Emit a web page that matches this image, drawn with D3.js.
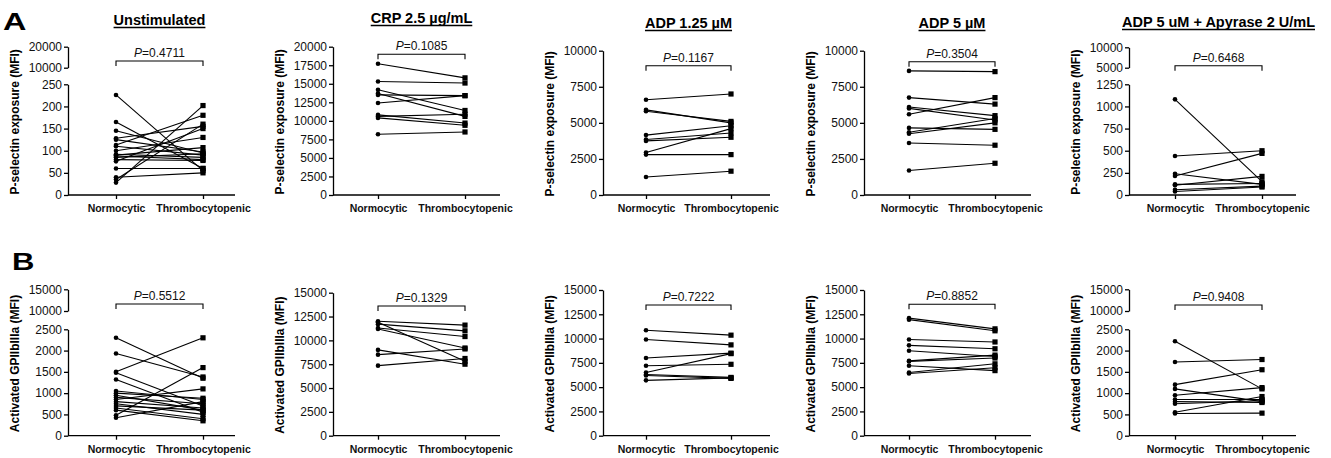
<!DOCTYPE html>
<html>
<head>
<meta charset="utf-8">
<script src="https://cdn.jsdelivr.net/npm/d3@7"></script>
<style>
  body { margin: 0; background: #fff; }
  svg { font-family: "Liberation Sans", Arial, Helvetica, sans-serif; }
  .tick text { fill: #111; }
</style>
</head>
<body>
<script>
const groups = ["Normocytic", "Thrombocytopenic"];

const titles = ["Unstimulated", "CRP 2.5 \u00b5g/mL", "ADP 1.25 \u00b5M", "ADP 5 \u00b5M", "ADP 5 uM + Apyrase 2 U/mL"];
const yLabels = ["P-selectin exposure (MFI)", "Activated GPIIbIIIa (MFI)"];
const pValuesA = ["0.4711", "0.1085", "0.1167", "0.3504", "0.6468"];
const pValuesB = ["0.5512", "0.1329", "0.7222", "0.8852", "0.9408"];

// P-selectin exposure (row A), paired values per donor
const pselUnstimN = [226, 165, 145, 128, 125, 113, 110, 100, 92, 90, 88, 85, 80, 76, 60, 40, 35, 28];
const pselUnstimT = [55, 60, 95, 155, 97, 180, 90, 130, 85, 107, 80, 93, 78, 150, 60, 50, 160, 202];
const pselCrpN = [17700, 15300, 14200, 13700, 13500, 12400, 10800, 10600, 10400, 8200];
const pselCrpT = [15800, 15100, 11400, 10600, 13400, 13400, 9700, 10900, 9400, 8500];
const pselAdp125N = [6600, 5900, 5800, 4150, 3850, 3750, 2950, 2800, 1250];
const pselAdp125T = [7000, 5000, 5100, 4800, 4300, 4000, 4600, 2800, 1650];
const pselAdp5N = [8600, 6750, 6100, 6000, 5600, 4650, 4350, 4250, 3600, 1700];
const pselAdp5T = [8550, 6300, 5500, 5200, 6750, 4550, 5300, 5000, 3450, 2200];
const pselApyN = [1080, 440, 240, 215, 120, 110, 60, 40];
const pselApyT = [150, 500, 120, 470, 130, 210, 100, 90];

// Activated GPIIbIIIa (row B)
const gpUnstimN = [2300, 1930, 1500, 1480, 1320, 1050, 1000, 950, 900, 850, 800, 750, 700, 650, 600, 480, 420];
const gpUnstimT = [1350, 1380, 2300, 700, 550, 850, 880, 600, 750, 1100, 650, 500, 600, 400, 350, 1600, 800];
const gpCrpN = [12000, 11900, 11700, 11300, 11200, 9000, 8500, 7350];
const gpCrpT = [11600, 7800, 11000, 10400, 9200, 7500, 9100, 8100];
const gpAdp125N = [10850, 9900, 8000, 7200, 6500, 6300, 6200, 5700];
const gpAdp125T = [10350, 9350, 8500, 7350, 8450, 6000, 5900, 5950];
const gpAdp5N = [12100, 11950, 9900, 9300, 8750, 7700, 7650, 7200, 6500, 6400];
const gpAdp5T = [11000, 10800, 9650, 8950, 8150, 8300, 8000, 6700, 7400, 7000];
const gpApyN = [2220, 1730, 1200, 1100, 950, 850, 800, 750, 550, 520];
const gpApyT = [1100, 1790, 1550, 800, 1130, 850, 780, 820, 920, 530];

// tick labels
const ticksUnstimLow = [0, 50, 100, 150, 200, 250];
const ticksUnstimUp = [10000, 20000];
const ticksCrp = [0, 2500, 5000, 7500, 10000, 12500, 15000, 17500, 20000];
const ticks10k = [0, 2500, 5000, 7500, 10000];
const ticksApyLow = [0, 250, 500, 750, 1000, 1250];
const ticksApyUp = [5000, 10000];
const ticksGpLow = [0, 500, 1000, 1500, 2000, 2500];
const ticksGpUp = [10000, 15000];
const ticks15k = [0, 2500, 5000, 7500, 10000, 12500, 15000];

const panels = [
  { row: 0, col: 0, n: pselUnstimN, t: pselUnstimT, low: ticksUnstimLow, up: ticksUnstimUp },
  { row: 0, col: 1, n: pselCrpN, t: pselCrpT, low: ticksCrp },
  { row: 0, col: 2, n: pselAdp125N, t: pselAdp125T, low: ticks10k },
  { row: 0, col: 3, n: pselAdp5N, t: pselAdp5T, low: ticks10k },
  { row: 0, col: 4, n: pselApyN, t: pselApyT, low: ticksApyLow, up: ticksApyUp },
  { row: 1, col: 0, n: gpUnstimN, t: gpUnstimT, low: ticksGpLow, up: ticksGpUp },
  { row: 1, col: 1, n: gpCrpN, t: gpCrpT, low: ticks15k },
  { row: 1, col: 2, n: gpAdp125N, t: gpAdp125T, low: ticks15k },
  { row: 1, col: 3, n: gpAdp5N, t: gpAdp5T, low: ticks15k },
  { row: 1, col: 4, n: gpApyN, t: gpApyT, low: ticksGpLow, up: ticksGpUp }
];

// layout (pixels)
const axisX = [68, 333, 603, 864, 1129];
const normX = [116, 378, 646, 909, 1175];
const thrX = [203, 465, 731, 995, 1262];
const bottomY = [195, 435.7];
const topY = [[46.7, 46.7, 50.7, 50.7, 47.3], [289.3, 292.7, 290, 290, 289.3]];
const lowTopY = [84.3, 329.3];
const upBottomY = [67.7, 311];
const bracketY = [[61, 54.3, 65.7, 61.7, 65.7], [304, 306, 305, 304.3, 305]];
const titleY = [25, 23, 28, 28, 27];

const svg = d3.select("body").append("svg")
  .attr("width", 1331)
  .attr("height", 458);

function styleAxis(sel) {
  sel.selectAll("path, line").attr("stroke", "#000").attr("stroke-width", 1.3);
  sel.selectAll("text").attr("font-size", "12px").attr("fill", "#111");
}

panels.forEach(function (p) {
  const r = p.row, c = p.col;
  const g = svg.append("g");
  const x = d3.scalePoint().domain(groups).range([normX[c], thrX[c]]);

  let yLow, yUp = null;
  if (p.up) {
    yLow = d3.scaleLinear().domain([0, d3.max(p.low)]).range([bottomY[r], lowTopY[r]]);
    yUp = d3.scaleLinear().domain(d3.extent(p.up)).range([upBottomY[r], topY[r][c]]);
  } else {
    yLow = d3.scaleLinear().domain([0, d3.max(p.low)]).range([bottomY[r], topY[r][c]]);
  }
  const y = function (v) {
    return (yUp && v > d3.max(p.low)) ? yUp(v) : yLow(v);
  };

  // y axes
  g.append("g")
    .attr("transform", "translate(" + axisX[c] + ",0)")
    .call(d3.axisLeft(yLow).tickValues(p.low).tickSize(4).tickPadding(2).tickSizeOuter(0).tickFormat(d3.format("d")))
    .call(styleAxis);
  if (yUp) {
    g.append("g")
      .attr("transform", "translate(" + axisX[c] + ",0)")
      .call(d3.axisLeft(yUp).tickValues(p.up).tickSize(4).tickPadding(2).tickSizeOuter(0).tickFormat(d3.format("d")))
      .call(styleAxis);
  }

  // x axis
  const xa = g.append("g")
    .attr("transform", "translate(0," + bottomY[r] + ")")
    .call(d3.axisBottom(x).tickSize(4).tickPadding(6).tickSizeOuter(0));
  xa.select(".domain").remove();
  xa.append("line")
    .attr("x1", axisX[c]).attr("x2", axisX[c] + 167)
    .attr("y1", 0).attr("y2", 0);
  xa.selectAll("path, line").attr("stroke", "#000").attr("stroke-width", 1.3);
  xa.selectAll("text").attr("font-size", "10.5px").attr("font-weight", "bold").attr("fill", "#000");

  // y label
  const ymid = yUp ? (bottomY[r] + topY[r][c]) / 2 : (bottomY[r] + topY[r][c]) / 2;
  g.append("text")
    .attr("transform", "translate(" + (axisX[c] - 52) + "," + (ymid + 1) + ") rotate(-90)")
    .attr("text-anchor", "middle")
    .attr("dominant-baseline", "middle")
    .attr("font-size", "12px")
    .attr("font-weight", "bold")
    .text(yLabels[r]);

  // paired lines
  const pairs = p.n.map(function (v, i) { return [v, p.t[i]]; });
  g.selectAll(".pair")
    .data(pairs)
    .enter()
    .append("line")
    .attr("class", "pair")
    .attr("x1", x(groups[0]))
    .attr("x2", x(groups[1]))
    .attr("y1", function (d) { return y(d[0]); })
    .attr("y2", function (d) { return y(d[1]); })
    .attr("stroke", "#000")
    .attr("stroke-width", 1.1);

  g.selectAll(".dotN")
    .data(p.n)
    .enter()
    .append("circle")
    .attr("class", "dotN")
    .attr("cx", x(groups[0]))
    .attr("cy", function (d) { return y(d); })
    .attr("r", 2.3)
    .attr("fill", "#000");

  g.selectAll(".dotT")
    .data(p.t)
    .enter()
    .append("rect")
    .attr("class", "dotT")
    .attr("x", x(groups[1]) - 2.6)
    .attr("y", function (d) { return y(d) - 2.6; })
    .attr("width", 5.2)
    .attr("height", 5.2)
    .attr("fill", "#000");

  // significance bracket
  const by = bracketY[r][c];
  g.append("path")
    .attr("d", "M" + x(groups[0]) + "," + (by + 5) + "V" + by + "H" + x(groups[1]) + "V" + (by + 5))
    .attr("fill", "none")
    .attr("stroke", "#000")
    .attr("stroke-width", 1.1);
  const pt = g.append("text")
    .attr("x", (x(groups[0]) + x(groups[1])) / 2)
    .attr("y", by - 4)
    .attr("text-anchor", "middle")
    .attr("font-size", "12px")
    .attr("fill", "#111");
  pt.append("tspan").attr("font-style", "italic").text("P");
  pt.append("tspan").text("=" + (r === 0 ? pValuesA[c] : pValuesB[c]));

  // title (row A only)
  if (r === 0) {
    const cx = (x(groups[0]) + x(groups[1])) / 2;
    const tt = g.append("text")
      .attr("x", cx)
      .attr("y", titleY[c])
      .attr("text-anchor", "middle")
      .attr("font-size", "14.5px")
      .attr("font-weight", "bold")
      .attr("fill", "#000")
      .text(titles[c]);
    const w = tt.node().getComputedTextLength();
    g.append("line")
      .attr("x1", cx - w / 2).attr("x2", cx + w / 2)
      .attr("y1", titleY[c] + 2.5).attr("y2", titleY[c] + 2.5)
      .attr("stroke", "#000")
      .attr("stroke-width", 1.3);
  }
});

// panel letters
svg.append("text")
  .attr("transform", "translate(3,30) scale(1.35,1)")
  .attr("font-size", "24px")
  .attr("font-weight", "bold")
  .text("A");
svg.append("text")
  .attr("transform", "translate(12,270) scale(1.35,1)")
  .attr("font-size", "23px")
  .attr("font-weight", "bold")
  .text("B");
</script>
</body>
</html>
